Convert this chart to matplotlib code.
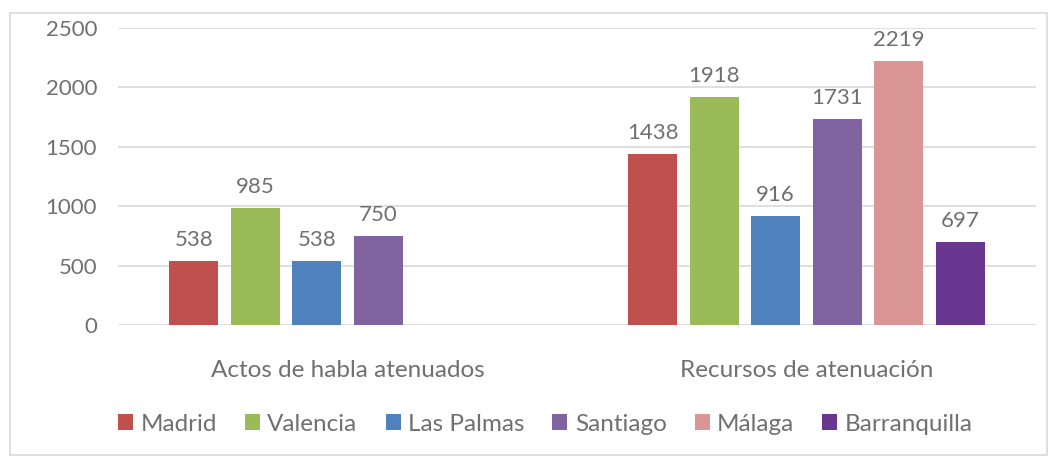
import numpy as np
import matplotlib
matplotlib.use("Agg")
import matplotlib.pyplot as plt
from matplotlib.patches import Rectangle

categories = ["Actos de habla atenuados", "Recursos de atenuación"]
ciudades = ["Madrid", "Valencia", "Las Palmas", "Santiago", "Málaga", "Barranquilla"]
madrid = [538, 1438]
valencia = [985, 1918]
las_palmas = [538, 916]
santiago = [750, 1731]
malaga = [np.nan, 2219]
barranquilla = [np.nan, 697]
series = [madrid, valencia, las_palmas, santiago, malaga, barranquilla]
colores = ["#C0504D", "#9BBB59", "#4F81BD", "#8064A2", "#D99694", "#6A3790"]

plt.rcParams['font.family'] = ['Lato', 'DejaVu Sans']
gris = "#707070"
fs_big = 17.5
fs_num = 16

fig = plt.figure(figsize=(10.57, 4.59), dpi=100)
ax = fig.add_axes([0.1116, 0.292, 0.8684, 0.647])

x = np.arange(len(categories))
slot = 0.134
bw = 0.107
for i, (vals, c, nombre) in enumerate(zip(series, colores, ciudades)):
    pos = x + (i - 2.5) * slot
    ax.bar(pos, vals, width=bw, color=c, label=nombre, zorder=3)
    for p, v in zip(pos, vals):
        if not np.isnan(v):
            ax.annotate(str(v), (p, v), xytext=(0, 8), textcoords="offset points",
                        ha="center", va="bottom", fontsize=fs_num, color=gris)

ax.set_xlim(-0.5, 1.5)
ax.set_ylim(0, 2500)
ax.set_yticks(np.arange(0, 2501, 500))
ax.grid(axis="y", color="#D9D9D9", linewidth=1.2, zorder=0)
for s in ax.spines.values():
    s.set_visible(False)
ax.tick_params(axis="both", length=0, labelcolor=gris)
ax.tick_params(axis="y", pad=15, labelsize=fs_num)
ax.tick_params(axis="x", pad=25, labelsize=fs_big)
ax.set_xticks(x)
ax.set_xticklabels(categories)

handles, labels = ax.get_legend_handles_labels()
fig.legend(handles, labels, loc="center", bbox_to_anchor=(0.516, 0.076), ncol=6, frameon=False,
           fontsize=fs_big, labelcolor=gris, handlelength=0.62, handleheight=0.62,
           handletextpad=0.3, columnspacing=1.15)

fig.patches.append(Rectangle((10 / 1057, 4 / 459), 1037 / 1057, 442 / 459,
                             transform=fig.transFigure, fill=False,
                             edgecolor="#D9D9D9", linewidth=1.2))

fig.savefig("out.png", dpi=100)
